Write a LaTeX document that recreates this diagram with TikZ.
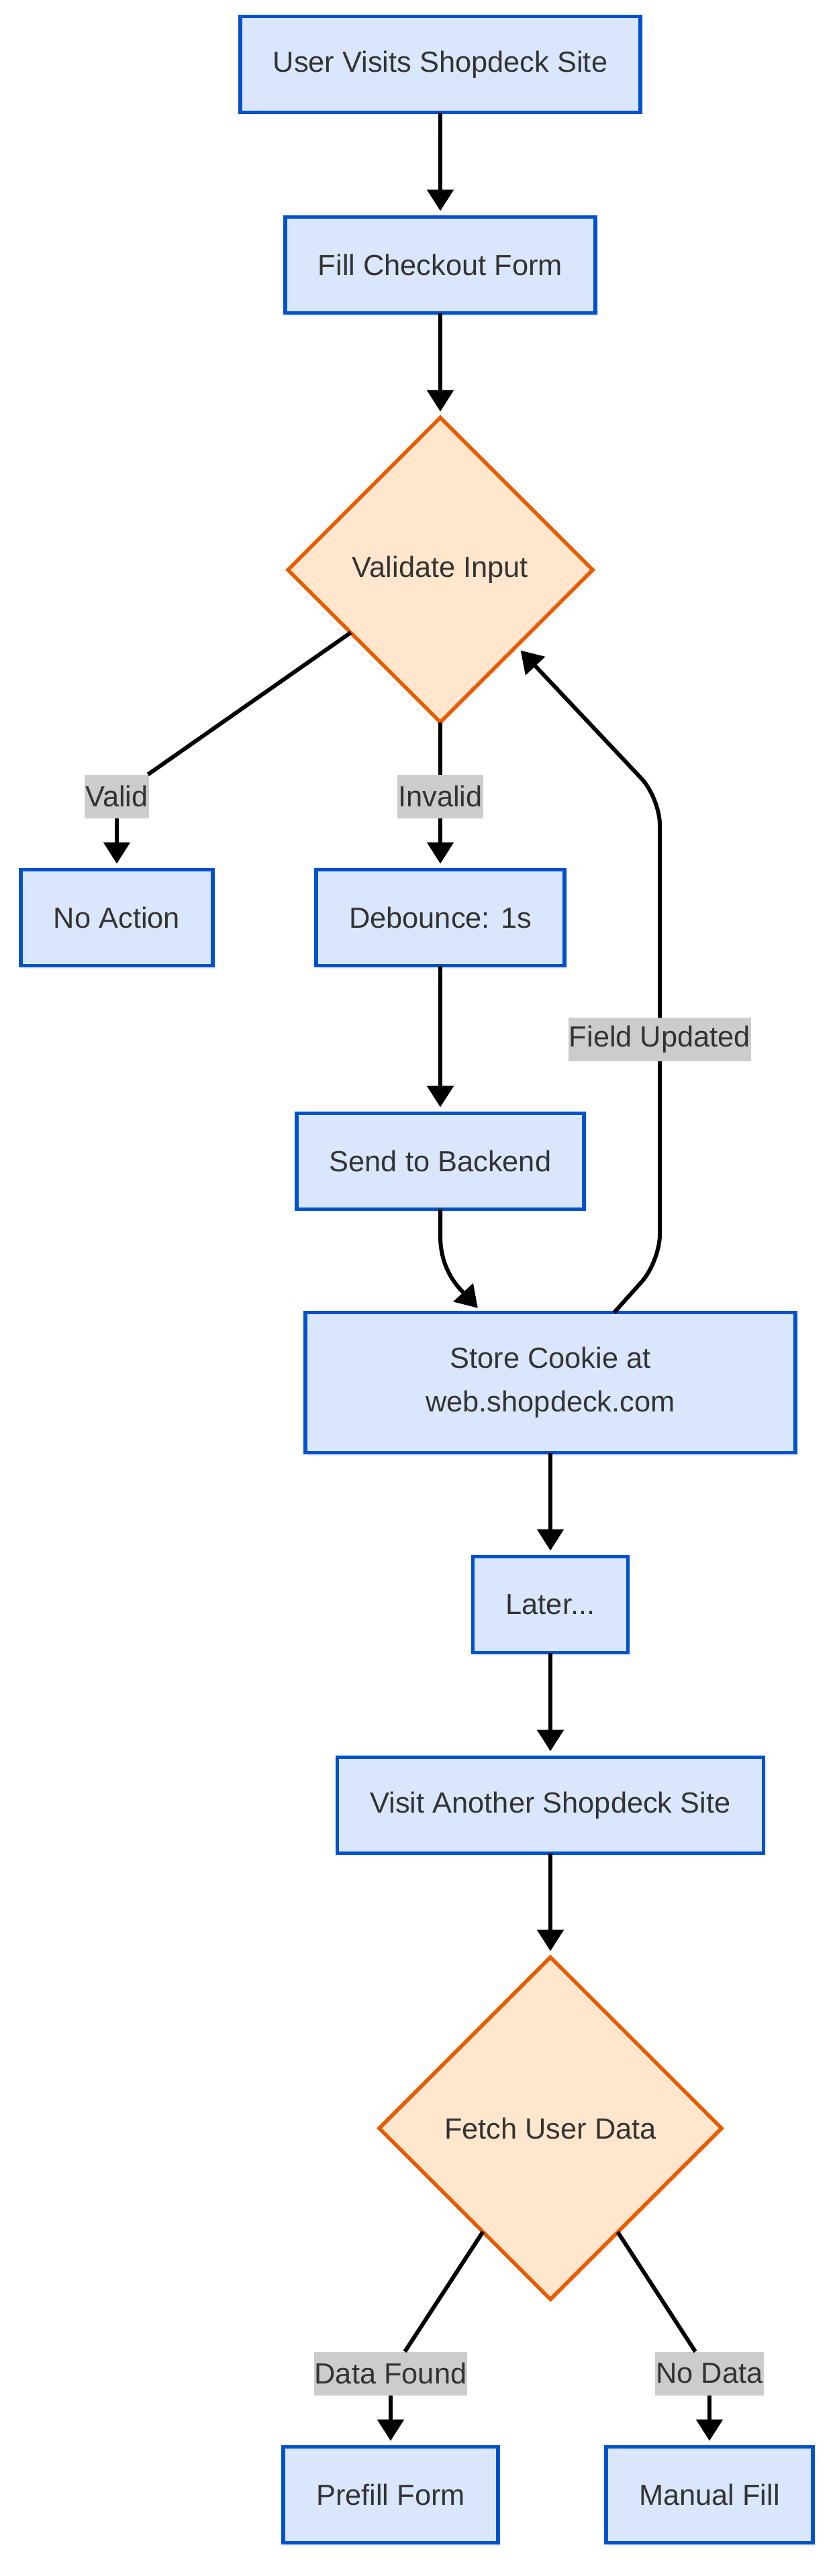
\documentclass[tikz,border=0pt]{standalone}
\usepackage{fontspec}
\setmainfont{Liberation Sans}
\usetikzlibrary{arrows.meta, positioning, shapes.geometric, shadows}

\definecolor{stepfill}{HTML}{DAE6FC}
\definecolor{stepline}{HTML}{0052CC}
\definecolor{checkfill}{HTML}{FFE6CC}
\definecolor{checkline}{HTML}{E65C00}
\definecolor{tagfill}{HTML}{CCCCCC}
\definecolor{inktext}{HTML}{333333}

\begin{document}
\begin{tikzpicture}[
  every node/.style={font=\fontsize{21.7}{32.5}\selectfont, text=inktext, outer sep=0pt},
  stepbox/.style={rectangle, draw=stepline, line width=2.8pt, fill=stepfill, inner xsep=24.5pt, minimum height=71.5pt, align=center, drop shadow={opacity=0.12, shadow xshift=2pt, shadow yshift=-2pt}},
  check/.style={diamond, aspect=1, draw=checkline, line width=2.8pt, fill=checkfill, inner sep=0pt, drop shadow={opacity=0.12, shadow xshift=2pt, shadow yshift=-2pt}},
  tag/.style={rectangle, fill=tagfill, inner xsep=0.5pt, inner ysep=0pt, minimum height=32.5pt},
  arrow/.style={-{Triangle[length=16pt, width=19.5pt]}, line width=3pt, shorten >=4.5pt},
  link/.style={line width=3pt}
]
\useasboundingbox (0,0) rectangle (623.5pt,-1920pt);

% Checkout flow
\node[stepbox] (visit) at (328pt,-48pt) {User Visits Shopdeck Site};
\node[stepbox, below=78pt of visit] (fill) {Fill Checkout Form};
\node[check, minimum size=227pt, below=78pt of fill] (validate) {Validate Input};
\node[stepbox, below=110pt of validate] (debounce) {Debounce: 1s};
\node[stepbox, left=77pt of debounce] (noaction) {No Action};
\node[stepbox, below=110pt of debounce] (send) {Send to Backend};
\node[stepbox, minimum width=365pt, minimum height=104.5pt, below=77pt of send, xshift=82pt] (store) {Store Cookie at\\web.shopdeck.com};

% Second visit
\node[stepbox, below=77.5pt of store] (later) {Later...};
\node[stepbox, below=78pt of later] (another) {Visit Another Shopdeck Site};
\node[check, minimum size=255pt, below=77.5pt of another] (fetch) {Fetch User Data};
\node[stepbox, below=110pt of fetch, xshift=-119pt] (prefill) {Prefill Form};
\node[stepbox, below=110pt of fetch, xshift=118.5pt] (manual) {Manual Fill};

% Edge labels
\node[tag, above=38.5pt of noaction] (lblvalid) {Valid};
\node[tag, above=38.5pt of debounce] (lblinvalid) {Invalid};
\node[tag, above=187.25pt of store, xshift=81.5pt] (lblfield) {Field Updated};
\node[tag, above=38.5pt of prefill] (lblfound) {Data Found};
\node[tag, above=38.5pt of manual] (lblnodata) {No Data};

% Arrows
\draw[arrow] (visit) -- (fill);
\draw[arrow] (fill) -- (validate);
\draw[link] (validate) -- (lblvalid);
\draw[arrow] (lblvalid) -- (noaction);
\draw[link] (validate) -- (lblinvalid);
\draw[arrow] (lblinvalid) -- (debounce);
\draw[arrow] (debounce) -- (send);
\draw[arrow] (send.south) -- ++(0,-20pt) to[out=-90, in=133] ([xshift=-51pt]store.north);

% Loop back on field update
\draw[link, rounded corners=20pt] ([xshift=47.5pt]store.north) -- ([yshift=-165.5pt]lblfield.center) -- (lblfield.south);
\draw[arrow, rounded corners=20pt] (lblfield.north) -- ([yshift=180pt]lblfield.center) -- (validate.south east);

\draw[arrow] (store) -- (later);
\draw[arrow] (later) -- (another);
\draw[arrow] (another) -- (fetch);
\draw[link] (fetch) -- (lblfound);
\draw[arrow] (lblfound) -- (prefill);
\draw[link] (fetch) -- (lblnodata);
\draw[arrow] (lblnodata) -- (manual);

\end{tikzpicture}
\end{document}
